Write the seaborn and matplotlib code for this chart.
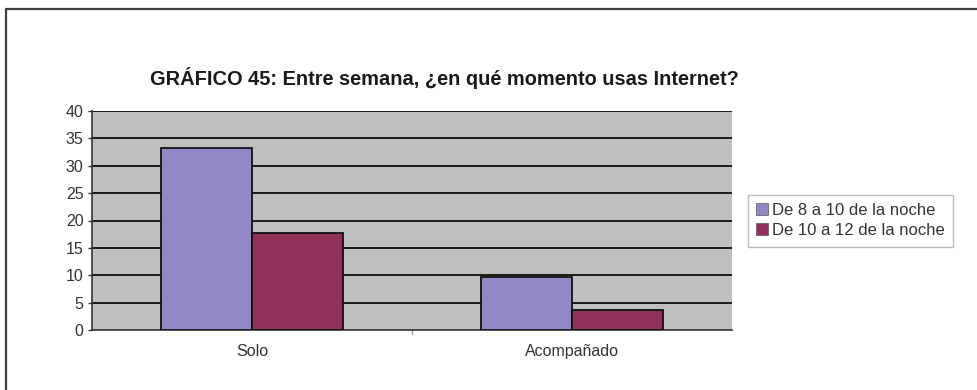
import matplotlib
matplotlib.use("Agg")
import matplotlib.pyplot as plt
import seaborn as sns
import pandas as pd
from matplotlib.lines import Line2D

# Data
categories = ["Solo", "Acompañado"]
series_names = ["De 8 a 10 de la noche", "De 10 a 12 de la noche"]
de_8_a_10 = [33.3, 9.7]
de_10_a_12 = [17.7, 3.7]
y_ticks = [0, 5, 10, 15, 20, 25, 30, 35, 40]

title = "GRÁFICO 45: Entre semana, ¿en qué momento usas Internet?"

df = pd.DataFrame({
    "categoria": categories * 2,
    "serie": [series_names[0]] * 2 + [series_names[1]] * 2,
    "valor": de_8_a_10 + de_10_a_12,
})

sns.set_theme(style="white")
plt.rcParams["font.family"] = ["Liberation Sans", "DejaVu Sans"]

fig = plt.figure(figsize=(9.77, 3.90), dpi=100)
ax = fig.add_axes([92 / 977, 1 - 330 / 390, 640 / 977, 219 / 390])
ax.set_facecolor("#c0c0c0")

palette = {series_names[0]: "#9189c6", series_names[1]: "#8f3158"}
sns.barplot(data=df, x="categoria", y="valor", hue="serie", order=categories,
            hue_order=series_names, palette=palette, width=0.57,
            edgecolor="#111111", linewidth=1.3, saturation=1, ax=ax, zorder=3)

ax.set_ylim(0, 40)
ax.set_xlim(-0.5, 1.5)
ax.set_yticks(y_ticks)
ax.set_yticklabels([str(t) for t in y_ticks], fontsize=11.5, color="#333333")
ax.tick_params(axis="y", length=3, width=1, color="#333333", pad=3, left=True)
ax.tick_params(axis="x", length=0, pad=10, labelsize=11.5, labelcolor="#333333")
ax.set_xlabel("")
ax.set_ylabel("")

# horizontal gridlines
ax.grid(False)
for t in y_ticks[1:]:
    ax.axhline(t, color="#1a1a1a", linewidth=1.4, zorder=1)

# category boundary tick on x axis
ax.plot([0.5, 0.5], [0, -0.8], color="#999999", lw=1, clip_on=False)

for side in ["top", "right"]:
    ax.spines[side].set_visible(False)
for side in ["left", "bottom"]:
    ax.spines[side].set_color("#333333")
    ax.spines[side].set_linewidth(1.2)

# legend with square markers
handles = [Line2D([0], [0], marker="s", linestyle="none", markersize=8.5,
                  markerfacecolor=palette[n], markeredgecolor="#555555",
                  markeredgewidth=0.5) for n in series_names]
ax.legend(handles, series_names, loc="upper left",
          bbox_to_anchor=(748 / 977, 1 - 195 / 390), bbox_transform=fig.transFigure,
          frameon=True, fancybox=False, edgecolor="#aaaaaa", fontsize=12,
          handlelength=0.7, handletextpad=0.25, borderpad=0.5, labelspacing=0.3,
          borderaxespad=0, labelcolor="#333333")

fig.text(444 / 977, 1 - 78 / 390, title, ha="center", va="center",
         fontsize=14.4, fontweight="bold", color="#1a1a1a")

# outer frame: top and left edges
fig.add_artist(Line2D([6 / 977, 1], [1 - 9 / 390, 1 - 9 / 390],
                      transform=fig.transFigure, color="#404040", lw=1.6))
fig.add_artist(Line2D([6 / 977, 6 / 977], [0, 1 - 9 / 390],
                      transform=fig.transFigure, color="#404040", lw=1.6))

fig.savefig("out.png", dpi=100, facecolor="white")
